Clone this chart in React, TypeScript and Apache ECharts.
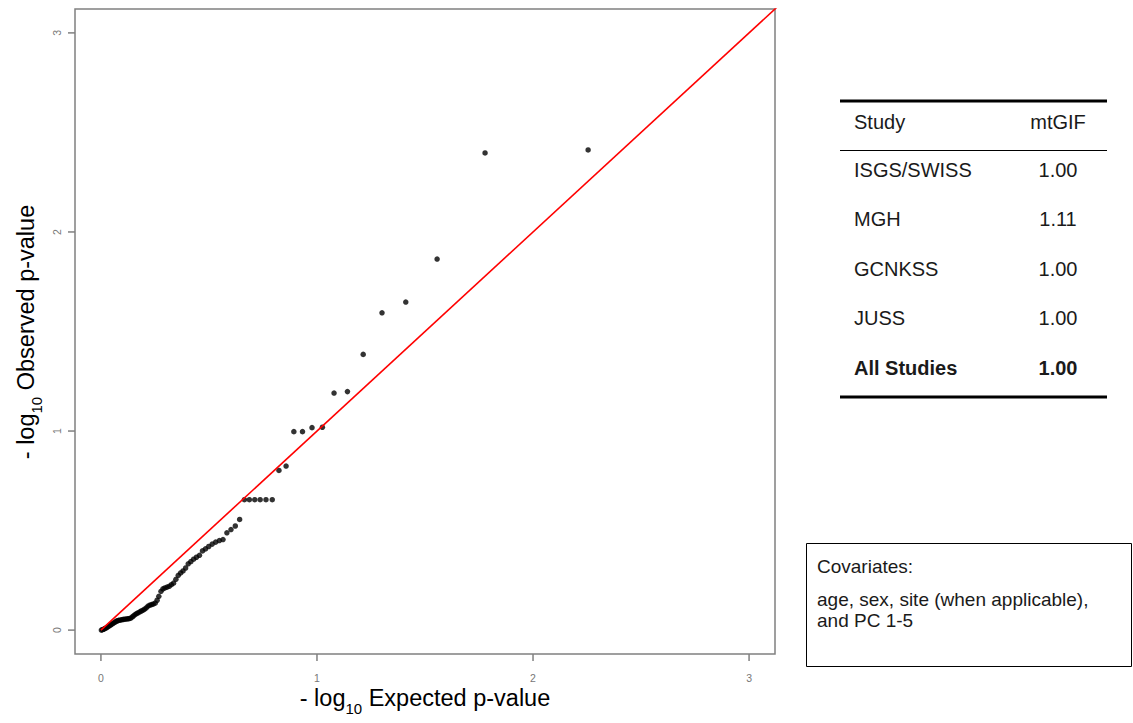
import React, { useEffect, useRef } from "react";
import * as echarts from "echarts";

// Expected -log10 p (x) and observed -log10 p (y)
const expectedP = [
  2.255, 1.778, 1.556, 1.411, 1.301, 1.214, 1.141, 1.079, 1.025, 0.977,
  0.933, 0.893, 0.857, 0.824, 0.793, 0.764, 0.737, 0.712, 0.687, 0.664,
  0.642, 0.622, 0.602, 0.583, 0.565, 0.548, 0.531, 0.515, 0.499, 0.484,
  0.47, 0.456, 0.442, 0.429, 0.416, 0.404, 0.392, 0.38, 0.369, 0.358,
  0.347, 0.336, 0.326, 0.316, 0.306, 0.296, 0.287, 0.278, 0.268, 0.26,
  0.251, 0.242, 0.234, 0.226, 0.218, 0.21, 0.202, 0.195, 0.187, 0.18,
  0.172, 0.165, 0.158, 0.151, 0.145, 0.138, 0.131, 0.125, 0.119, 0.112,
  0.106, 0.1, 0.094, 0.088, 0.082, 0.076, 0.071, 0.065, 0.059, 0.054,
  0.048, 0.043, 0.038, 0.033, 0.027, 0.022, 0.017, 0.012, 0.007, 0.002,
];
const observedP = [
  2.412, 2.397, 1.864, 1.648, 1.594, 1.385, 1.198, 1.191, 1.019, 1.017,
  0.997, 0.997, 0.824, 0.802, 0.655, 0.655, 0.655, 0.655, 0.655, 0.655,
  0.556, 0.523, 0.505, 0.489, 0.455, 0.45, 0.442, 0.432, 0.42, 0.408,
  0.398, 0.376, 0.366, 0.356, 0.344, 0.333, 0.312, 0.297, 0.287, 0.275,
  0.255, 0.236, 0.228, 0.22, 0.216, 0.212, 0.207, 0.195, 0.17, 0.15,
  0.135, 0.131, 0.128, 0.125, 0.12, 0.112, 0.105, 0.1, 0.096, 0.092,
  0.087, 0.083, 0.078, 0.072, 0.066, 0.06, 0.058, 0.057, 0.056, 0.055,
  0.054, 0.053, 0.052, 0.05, 0.049, 0.047, 0.044, 0.04, 0.036, 0.032,
  0.028, 0.025, 0.021, 0.017, 0.013, 0.01, 0.007, 0.004, 0.002, 0.0,
];
const refLine = [0, 3.3];
const tickValues = [0, 1, 2, 3];
const axisMin = -0.12;
const axisMax = 3.12;

const studies = ["ISGS/SWISS", "MGH", "GCNKSS", "JUSS"];
const gifs = ["1.00", "1.11", "1.00", "1.00"];
const allStudiesLabel = "All Studies";
const allStudiesGif = "1.00";
const covariateLines = ["age, sex, site (when applicable),", "and PC 1-5"];

const FONT = "'Liberation Sans', Arial, Helvetica, sans-serif";
const AXIS_GRAY = "#808080";
const GRID = { left: 75, top: 9, width: 700, height: 645 };

export default function App() {
  const ref = useRef<HTMLDivElement>(null);
  useEffect(() => {
    if (!ref.current) return;
    const chart = echarts.init(ref.current, undefined, { renderer: "svg" });
    const points = expectedP.map((x, i) => [x, observedP[i]]);
    const rowYs = [170, 219, 269, 318];
    const tableLeft = 840;
    const tableRight = 1107;
    const textLeft = 854;
    const valCx = 1058;
    const tableText = (text: string, x: number, y: number, align: string, bold = false) => ({
      type: "text",
      x,
      y,
      style: {
        text,
        fontFamily: FONT,
        fontSize: 20,
        fontWeight: bold ? "bold" : "normal",
        fill: "#1a1a1a",
        align,
        verticalAlign: "middle",
      },
    });
    const titleRich = {
      a: { fontSize: 23.5, fontFamily: FONT, fill: "#000", lineHeight: 30, verticalAlign: "top" },
      b: { fontSize: 15, fontFamily: FONT, fill: "#000", lineHeight: 15, verticalAlign: "bottom" },
    };

    // linear mapping of the axes (same extent as the value axes below)
    const span = axisMax - axisMin;
    const xPix = (v: number) => GRID.left + ((v - axisMin) / span) * GRID.width;
    const yPix = (v: number) => GRID.top + GRID.height - ((v - axisMin) / span) * GRID.height;
    const bottom = GRID.top + GRID.height;
    const left = GRID.left;
    const tickStyle = { stroke: AXIS_GRAY, lineWidth: 1.5, fill: "none" };
    const tickGraphics: any[] = [];
    tickValues.forEach((v) => {
      tickGraphics.push({
        type: "line",
        silent: true,
        shape: { x1: xPix(v), y1: bottom, x2: xPix(v), y2: bottom + 7 },
        style: tickStyle,
      });
      tickGraphics.push({
        type: "line",
        silent: true,
        shape: { x1: left, y1: yPix(v), x2: left - 7, y2: yPix(v) },
        style: tickStyle,
      });
    });

    const graphics: any[] = [
      ...tickGraphics,
      {
        type: "text",
        x: 425,
        y: 701,
        style: {
          text: "{a|- log}{b|10}{a| Expected p-value}",
          rich: titleRich,
          align: "center",
          verticalAlign: "middle",
        },
      },
      {
        type: "text",
        x: 29,
        y: 332,
        rotation: Math.PI / 2,
        style: {
          text: "{a|- log}{b|10}{a| Observed p-value}",
          rich: titleRich,
          align: "center",
          verticalAlign: "middle",
        },
      },
      // table rules
      { type: "line", shape: { x1: tableLeft, y1: 101, x2: tableRight, y2: 101 }, style: { stroke: "#000", lineWidth: 3 } },
      { type: "line", shape: { x1: tableLeft, y1: 150.5, x2: tableRight, y2: 150.5 }, style: { stroke: "#000", lineWidth: 1 } },
      { type: "line", shape: { x1: tableLeft, y1: 397, x2: tableRight, y2: 397 }, style: { stroke: "#000", lineWidth: 3 } },
      tableText("Study", textLeft, 122, "left"),
      tableText("mtGIF", valCx, 122, "center"),
      ...studies.map((s, i) => tableText(s, textLeft, rowYs[i], "left")),
      ...gifs.map((g, i) => tableText(g, valCx, rowYs[i], "center")),
      tableText(allStudiesLabel, textLeft, 368, "left", true),
      tableText(allStudiesGif, valCx, 368, "center", true),
      // covariates box
      {
        type: "rect",
        shape: { x: 806.5, y: 543.5, width: 325, height: 123 },
        style: { fill: "#fff", stroke: "#000", lineWidth: 1 },
      },
      {
        type: "text",
        x: 817,
        y: 566,
        style: { text: "Covariates:", fontFamily: FONT, fontSize: 19, fill: "#1a1a1a", align: "left", verticalAlign: "middle" },
      },
      ...covariateLines.map((t, i) => ({
        type: "text",
        x: 817,
        y: 599 + i * 21,
        style: { text: t, fontFamily: FONT, fontSize: 19, fill: "#1a1a1a", align: "left", verticalAlign: "middle" },
      })),
    ];

    chart.setOption({
      animation: false,
      backgroundColor: "#ffffff",
      grid: {
        ...GRID,
        show: true,
        borderColor: AXIS_GRAY,
        borderWidth: 1.5,
        backgroundColor: "transparent",
      },
      xAxis: {
        type: "value",
        min: axisMin,
        max: axisMax,
        axisLine: { show: false, onZero: false },
        splitLine: { show: false },
        axisTick: { show: false },
        axisLabel: {
          customValues: tickValues,
          color: "#777",
          fontSize: 10.5,
          fontFamily: FONT,
          margin: 18,
        },
      },
      yAxis: {
        type: "value",
        min: axisMin,
        max: axisMax,
        axisLine: { show: false, onZero: false },
        splitLine: { show: false },
        axisTick: { show: false },
        axisLabel: {
          customValues: tickValues,
          color: "#777",
          fontSize: 10.5,
          fontFamily: FONT,
          rotate: 90,
          margin: 13,
        },
      },
      series: [
        {
          type: "scatter",
          data: points,
          symbol: "circle",
          symbolSize: 5.5,
          itemStyle: { color: "#000" },
          z: 2,
        },
        {
          type: "line",
          data: refLine.map((v) => [v, v]),
          showSymbol: false,
          clip: true,
          lineStyle: { color: "#ff0000", width: 1.6 },
          z: 3,
        },
      ],
      graphic: graphics,
    });
    return () => chart.dispose();
  }, []);
  return (
    <div
      ref={ref}
      style={{ position: "absolute", left: 0, top: 0, width: 1133, height: 723 }}
    />
  );
}
